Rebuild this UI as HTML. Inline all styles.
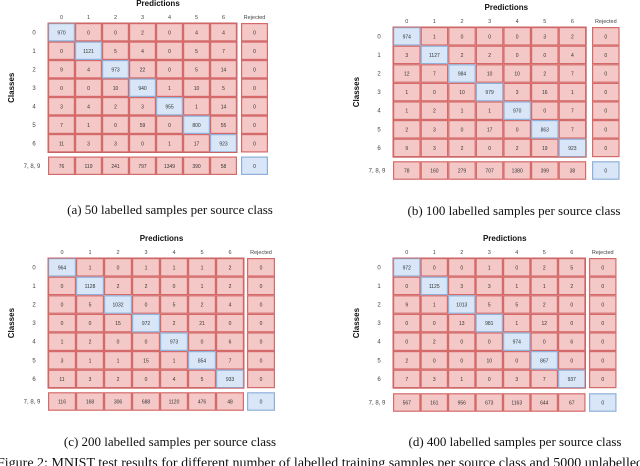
<!DOCTYPE html>
<html><head><meta charset="utf-8">
<style>
html,body{margin:0;padding:0;background:#fff;width:640px;height:466px;overflow:hidden}
svg{display:block}
</style></head>
<body>
<svg id="fig" width="640" height="466" viewBox="0 0 640 466"
 font-family="Liberation Sans, sans-serif"></svg>
<script>
const colLabels = ["0","1","2","3","4","5","6"];
const rowLabels = ["0","1","2","3","4","5","6"];
const otherLabel = "7, 8, 9";
const matA = [[970,0,0,2,0,4,4],[0,1121,5,4,0,5,7],[9,4,973,22,0,5,14],[0,0,10,940,1,10,5],[3,4,2,3,955,1,14],[7,1,0,59,0,800,55],[11,3,3,0,1,17,923]];
const otherA = [76,119,241,797,1349,390,58];
const rejA = [0,0,0,0,0,0,0]; const rejOtherA = 0;
const matB = [[974,1,0,0,0,3,2],[3,1127,2,2,0,0,4],[12,7,984,10,10,2,7],[1,0,10,979,3,16,1],[1,2,1,1,970,0,7],[2,3,0,17,0,863,7],[9,3,2,0,2,19,923]];
const otherB = [78,160,279,707,1380,399,38];
const rejB = [0,0,0,0,0,0,0]; const rejOtherB = 0;
const matC = [[964,1,0,1,1,1,2],[0,1128,2,2,0,1,2],[0,5,1032,0,5,2,4],[0,0,15,972,2,21,0],[1,2,0,0,973,0,6],[3,1,1,15,1,854,7],[11,3,2,0,4,5,933]];
const otherC = [116,168,306,688,1120,476,48];
const rejC = [0,0,0,0,0,0,0]; const rejOtherC = 0;
const matD = [[972,0,0,1,0,2,5],[0,1125,3,3,1,1,2],[9,1,1013,5,5,2,0],[0,0,13,981,1,12,0],[0,2,0,0,974,0,6],[2,0,0,10,0,867,0],[7,3,1,0,3,7,937]];
const otherD = [567,161,956,673,1163,644,67];
const rejD = [0,0,0,0,0,0,0]; const rejOtherD = 0;
const captions = ["(a) 50 labelled samples per source class","(b) 100 labelled samples per source class","(c) 200 labelled samples per source class","(d) 400 labelled samples per source class"];

const NS="http://www.w3.org/2000/svg";
const svg=document.getElementById('fig');
function mk(tag,attrs,parent,text){const e=document.createElementNS(NS,tag);for(const k in attrs)e.setAttribute(k,attrs[k]);if(text!==undefined)e.textContent=text;(parent||svg).appendChild(e);return e;}

const panels=[
 {key:'a',mat:matA,other:otherA,rej:rejA,ro:rejOtherA,x0:48,y0:23,cw:27,rh:18.5,rejX:241,gap:4,capY:214,capX:170},
 {key:'b',mat:matB,other:otherB,rej:rejB,ro:rejOtherB,x0:393,y0:27,cw:27.6,rh:18.6,rejX:592,gap:4,capY:215,capX:514},
 {key:'c',mat:matC,other:otherC,rej:rejC,ro:rejOtherC,x0:48,y0:258,cw:28,rh:18.6,rejX:247,gap:4,capY:446,capX:170},
 {key:'d',mat:matD,other:otherD,rej:rejD,ro:rejOtherD,x0:393,y0:258,cw:27.5,rh:18.6,rejX:589,gap:5,capY:446,capX:515}
];
panels.forEach((p,pi)=>{
 const g=mk('g',{});
 
 
 const xs=i=>p.x0+i*p.cw, ys=j=>p.y0+j*p.rh;
 const gridR=xs(7), midX=(p.x0+p.rejX+p.cw)/2;
 const t=mk('text',{x:midX,y:p.y0-17,'text-anchor':'middle','font-size':8,'font-weight':'bold',fill:'#111'},g,'Predictions');
 
 const cl=mk('text',{x:p.x0-34,y:ys(3.5),'text-anchor':'middle','font-size':8,'font-weight':'bold',fill:'#111',transform:`rotate(-90 ${p.x0-34} ${ys(3.5)})`},g,'Classes');
 
 colLabels.forEach((c,i)=>{const e=mk('text',{x:xs(i)+p.cw/2,y:p.y0-4,'text-anchor':'middle','font-size':5.5,fill:'#444'},g,c);
  });
 const rj=mk('text',{x:p.rejX+p.cw/2,y:p.y0-4,'text-anchor':'middle','font-size':5.5,fill:'#444'},g,'Rejected');
 
 const rows=p.mat.length;
 const oy=ys(rows)+p.gap;
 function cell(x,y,w,h,v,diag){
  const r=mk('rect',{x:x+0.6,y:y+0.6,width:w-1.2,height:h-1.2,fill:diag?'#d8e6f7':'#f5c8c8',stroke:diag?'#8fb0d8':'#d46a6a','stroke-width':1.2},g);
  
  const tx=mk('text',{x:x+w/2,y:y+h/2+2,'text-anchor':'middle','font-size':5,fill:'#333'},g,String(v));
  
 }
 p.mat.forEach((row,j)=>{
  const rl=mk('text',{x:p.x0-14,y:ys(j)+p.rh/2+2,'text-anchor':'middle','font-size':6,fill:'#444'},g,rowLabels[j]);
  
  row.forEach((v,i)=>cell(xs(i),ys(j),p.cw,p.rh,v,i===j));
  cell(p.rejX,ys(j),p.cw,p.rh,p.rej[j],false);
 });
 const ol=mk('text',{x:p.x0-16,y:oy+p.rh/2+2,'text-anchor':'middle','font-size':6,fill:'#444'},g,otherLabel);
 
 p.other.forEach((v,i)=>cell(xs(i),oy,p.cw,p.rh,v,false));
 cell(p.rejX,oy,p.cw,p.rh,p.ro,true);
 mk('rect',{x:p.x0,y:p.y0,width:gridR-p.x0,height:ys(rows)-p.y0,fill:'none',stroke:'#c96464','stroke-width':1},g);
 const cap=mk('text',{x:p.capX,y:p.capY,'text-anchor':'middle','font-size':13,'font-family':'Liberation Serif, serif',fill:'#111'},g,captions[pi]);
 
});
const fc=mk('text',{x:-3,y:467,'font-size':14,'font-family':'Liberation Serif, serif',fill:'#111'},svg,'Figure 2: MNIST test results for different number of labelled training samples per source class and 5000 unlabelled');

</script>
</body></html>
